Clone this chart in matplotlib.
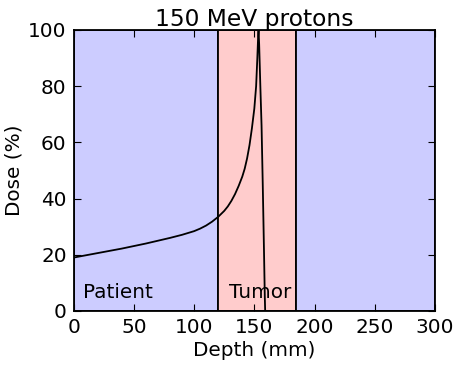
import matplotlib
matplotlib.use("Agg")
import matplotlib.pyplot as plt

depth = [0, 10, 20, 30, 40, 50, 60, 70, 80, 90, 100, 105, 110, 115, 120, 125, 128, 131, 134, 137,
         140, 142, 144, 146, 148, 150, 151.5, 152.5, 153.2, 153.5, 154, 155, 156, 157, 158, 158.7, 159]
dose = [19, 19.8, 20.6, 21.4, 22.2, 23.1, 24, 25, 26, 27.1, 28.4, 29.3, 30.4, 31.8, 33.5, 35.6, 37.2, 39.2, 41.6, 44.5,
        47.8, 50.6, 54.3, 59, 65, 72, 80, 90, 98, 100, 95, 80, 66, 45, 22, 5, 0]

regions = [(0, 120, '#ccccff'), (120, 185, '#ffcccc'), (185, 300, '#ccccff')]
labels = [("Patient", 8, 6.5), ("Tumor", 129, 6.5)]

fs = 14.4
fig = plt.figure(figsize=(4.57, 3.65), dpi=100)
ax = fig.add_axes([0.161, 0.148, 0.791, 0.770])
for a, b, c in regions:
    ax.axvspan(a, b, facecolor=c, edgecolor='black', linewidth=1.3)
ax.plot(depth, dose, color='black', linewidth=1.3)
for t, x, y in labels:
    ax.text(x, y, t, fontsize=fs, va='center', ha='left')
ax.set_xlim(0, 300)
ax.set_ylim(0, 100)
ax.set_xticks([0, 50, 100, 150, 200, 250, 300])
ax.set_yticks([0, 20, 40, 60, 80, 100])
ax.tick_params(direction='in', top=True, right=True, labelsize=fs, length=5, pad=5)
for s in ax.spines.values():
    s.set_linewidth(1.3)
ax.set_xlabel("Depth (mm)", fontsize=fs, labelpad=3)
ax.set_ylabel("Dose (%)", fontsize=fs, labelpad=3)
ax.set_title("150 MeV protons", fontsize=16.8, pad=3)
fig.savefig("out.png", dpi=100)
